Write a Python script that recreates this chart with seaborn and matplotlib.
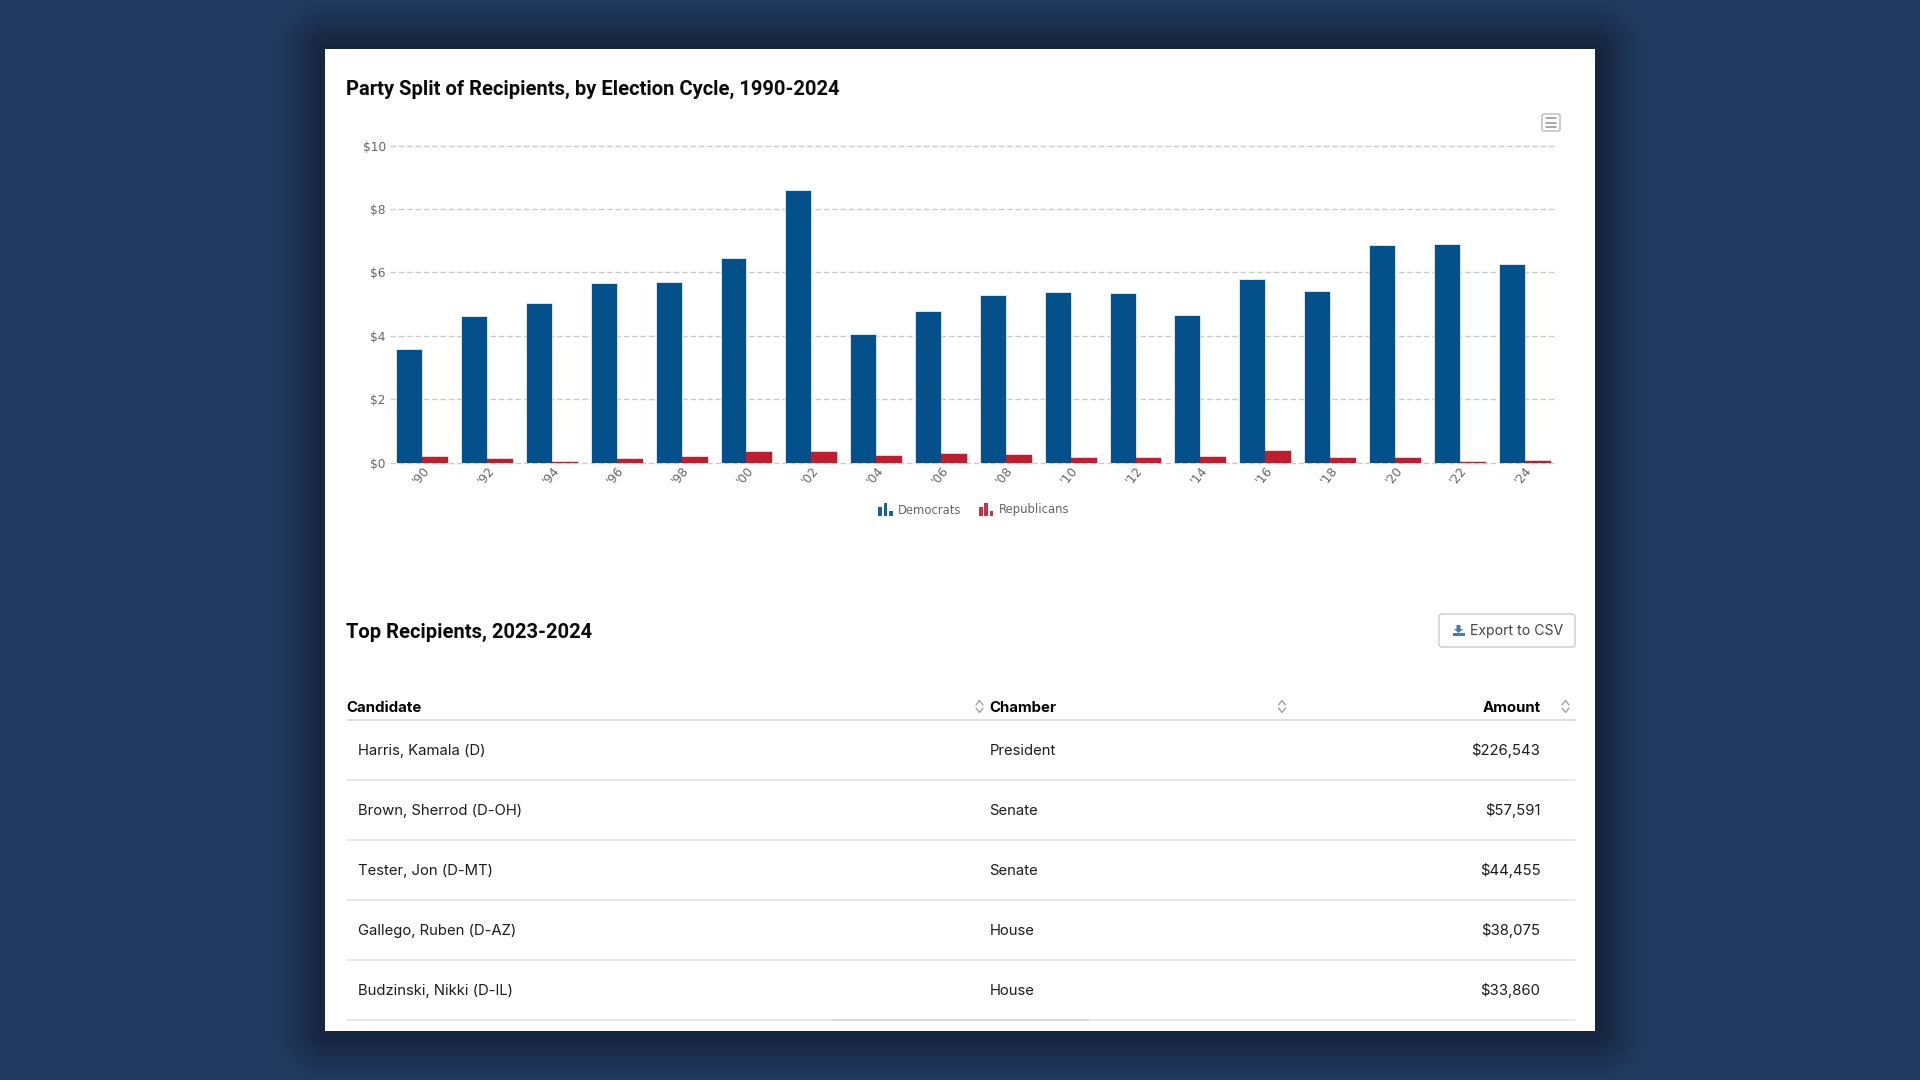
import numpy as np
import pandas as pd
import matplotlib
matplotlib.use('Agg')
import matplotlib.pyplot as plt
import seaborn as sns
from matplotlib.legend_handler import HandlerBase
from matplotlib.patches import FancyBboxPatch, Rectangle, Polygon

# Values
cycles = ["'90", "'92", "'94", "'96", "'98", "'00", "'02", "'04", "'06",
          "'08", "'10", "'12", "'14", "'16", "'18", "'20", "'22", "'24"]
democrats = [3.58, 4.62, 5.05, 5.67, 5.71, 6.44, 8.60, 4.06, 4.79,
             5.30, 5.38, 5.34, 4.65, 5.79, 5.42, 6.86, 6.89, 6.28]
republicans = [0.18, 0.11, 0.03, 0.11, 0.18, 0.33, 0.33, 0.22, 0.28,
               0.25, 0.14, 0.14, 0.18, 0.36, 0.14, 0.14, 0.02, 0.04]
y_ticks = [0, 2, 4, 6, 8, 10]

candidates = ['Harris, Kamala (D)', 'Brown, Sherrod (D-OH)', 'Tester, Jon (D-MT)',
              'Gallego, Ruben (D-AZ)', 'Budzinski, Nikki (D-IL)']
chambers = ['President', 'Senate', 'Senate', 'House', 'House']
amounts = ['$226,543', '$57,591', '$44,455', '$38,075', '$33,860']

DEM = '#03508b'
REP = '#be1e2d'
W, H = 1920, 1080
CARD = (325, 49, 1595, 1031)

sns.set_theme(style='white')
plt.rcParams['font.family'] = ['DejaVu Sans']

df = pd.DataFrame({
    'cycle': cycles * 2,
    'amount': democrats + republicans,
    'party': ['Democrats'] * len(cycles) + ['Republicans'] * len(cycles),
})

fig = plt.figure(figsize=(19.2, 10.8), dpi=100, facecolor='#213b60')

# Page layer in pixel coordinates: shadow, card, table
bg = fig.add_axes([0, 0, 1, 1])
bg.set_xlim(0, W)
bg.set_ylim(H, 0)
bg.axis('off')

yy, xx = np.mgrid[0:H, 0:W]
dx = np.maximum(np.maximum(CARD[0] - xx, xx - CARD[2]), 0)
dy = np.maximum(np.maximum(CARD[1] - yy, yy - CARD[3]), 0)
shadow = np.zeros((H, W, 4))
shadow[..., :3] = (0.07, 0.10, 0.17)
shadow[..., 3] = 0.62 * np.exp(-(np.hypot(dx, dy) / 32) ** 2)
bg.imshow(shadow, extent=(0, W, H, 0), aspect='auto', zorder=0)
bg.set_xlim(0, W)
bg.set_ylim(H, 0)
bg.add_patch(Rectangle((CARD[0], CARD[1]), CARD[2] - CARD[0], CARD[3] - CARD[1],
                       fc='white', ec='none', zorder=1))

bg.text(346.5, 95, 'Party Split of Recipients, by Election Cycle, 1990-2024',
        family='Roboto', weight='bold', fontsize=14.5, color='#0a0a0a', va='baseline', zorder=3)
bg.text(346.5, 637.5, 'Top Recipients, 2023-2024',
        family='Roboto', weight='bold', fontsize=14.5, color='#0a0a0a', va='baseline', zorder=3)

# Chart menu button
bg.add_patch(FancyBboxPatch((1542, 114), 18, 17, boxstyle='round,pad=0,rounding_size=2',
                            fc='white', ec='#c4c4c4', lw=1.2, zorder=3))
for y in (118, 122.5, 127):
    bg.plot([1546, 1556], [y, y], color='#8f8f8f', lw=1.1, zorder=4)

# Export button
bg.add_patch(FancyBboxPatch((1439, 614), 136, 33, boxstyle='round,pad=0,rounding_size=3',
                            fc='white', ec='#cfcfcf', lw=1.1, zorder=3))
bg.add_patch(Polygon([(1456.5, 625), (1460.5, 625), (1460.5, 629), (1463, 629), (1458.5, 633),
                      (1454, 629), (1456.5, 629)], fc='#3f7dbd', ec='none', zorder=4))
bg.add_patch(Rectangle((1452.5, 632.5), 12, 3.5, fc='#3f7dbd', ec='none', zorder=4))
bg.text(1470, 635.5, 'Export to CSV', family='Inter', fontsize=10.1, color='#444444',
        va='baseline', zorder=4)


def sort_icon(x, y):
    bg.plot([x - 3.5, x, x + 3.5], [y - 1.5, y - 6, y - 1.5], color='#9a9a9a', lw=0.9, zorder=4)
    bg.plot([x - 3.5, x, x + 3.5], [y + 1.5, y + 6, y + 1.5], color='#9a9a9a', lw=0.9, zorder=4)


# Table header
head_base = 712
bg.text(346.5, head_base, 'Candidate', family='Inter', weight='bold', fontsize=10.8,
        color='black', va='baseline', zorder=4)
bg.text(989.5, head_base, 'Chamber', family='Inter', weight='bold', fontsize=10.8,
        color='black', va='baseline', zorder=4)
bg.text(1540.5, head_base, 'Amount', family='Inter', weight='bold', fontsize=10.8,
        color='black', va='baseline', ha='right', zorder=4)
for x in (979.5, 1282, 1565.5):
    sort_icon(x, 706.5)
bg.plot([346.5, 1575], [719.5, 719.5], color='#d6d6d6', lw=1.1, zorder=3)

# Table rows
for i, (name, chamber, amount) in enumerate(zip(candidates, chambers, amounts)):
    row_y = 749.5 + i * 60
    base = row_y + 5.5
    bg.text(358, base, name, family='Inter', fontsize=10.7, color='#1c1c1c', va='baseline', zorder=4)
    bg.text(989.5, base, chamber, family='Inter', fontsize=10.7, color='#1c1c1c', va='baseline', zorder=4)
    bg.text(1540.5, base, amount, family='Inter', fontsize=10.7, color='#1c1c1c', va='baseline',
            ha='right', zorder=4)
    bg.plot([346.5, 1575], [row_y + 30.5, row_y + 30.5], color='#e2e2e2', lw=1.1, zorder=3)

# Scrollbar remnant under the last row
bg.plot([833, 1088], [1020, 1020], color='#d8d8d8', lw=1.6, zorder=4)

# Bar chart
ax_left, ax_right, ax_top, ax_bottom = 389.8, 1557, 145.6, 462.7
ax = fig.add_axes([ax_left / W, 1 - ax_bottom / H, (ax_right - ax_left) / W, (ax_bottom - ax_top) / H])
ax.patch.set_alpha(0)
sns.barplot(data=df, x='cycle', y='amount', hue='party', palette=[DEM, REP], saturation=1,
            width=0.8, gap=0, edgecolor='#e8f0f6', linewidth=0.6, ax=ax, legend=False, zorder=3)
# The pale outline would swallow the shortest red bars
for bar in ax.containers[1]:
    bar.set_edgecolor(REP)
    bar.set_linewidth(0.3)
ax.set_xlim(-0.5, len(cycles) - 0.5)
ax.set_ylim(0, 10)
ax.set_yticks(y_ticks)
ax.set_yticklabels([f'${v}' for v in y_ticks])
ax.set_xlabel('')
ax.set_ylabel('')
ax.yaxis.grid(True, color='#cccccc', lw=1, ls=(0, (4, 2)), clip_on=False)
ax.set_axisbelow(True)
sns.despine(ax=ax, left=True, bottom=True)
ax.tick_params(axis='y', length=0, pad=3, labelsize=8.7, labelcolor='#666666')
ax.tick_params(axis='x', length=0, pad=1, labelsize=8.9, labelcolor='#666666')
plt.setp(ax.get_xticklabels(), rotation=50, ha='right', va='top', rotation_mode='anchor')


class BarIconHandler(HandlerBase):
    # Small three-bar symbol used by the legend
    def create_artists(self, legend, orig_handle, xdescent, ydescent, width, height, fontsize, trans):
        color = orig_handle.get_facecolor()
        bars = []
        for k, frac in enumerate((0.7, 1.0, 0.4)):
            bars.append(Rectangle((-xdescent + k * width * 0.37, -ydescent - 2), width * 0.27,
                                  (height + 4) * frac, fc=color, ec='none', alpha=0.9, transform=trans))
        return bars


handles = [Rectangle((0, 0), 1, 1, fc=DEM), Rectangle((0, 0), 1, 1, fc=REP)]
ax.legend(handles, ['Democrats', 'Republicans'], handler_map={Rectangle: BarIconHandler()},
          loc='center', bbox_to_anchor=((974 - ax_left) / (ax_right - ax_left), -(510 - ax_bottom) / (ax_bottom - ax_top)),
          ncol=2, frameon=False, fontsize=8.4, labelcolor='#666666', handlelength=1.2,
          handletextpad=0.5, columnspacing=1.5, borderpad=0)

fig.savefig('out.png', dpi=100, facecolor=fig.get_facecolor())
